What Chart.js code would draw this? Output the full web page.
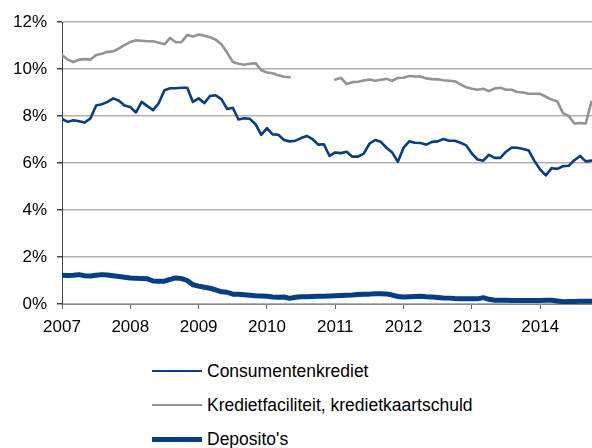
<!DOCTYPE html>
<html>
<head>
<meta charset="utf-8">
<script src="https://cdn.jsdelivr.net/npm/chart.js@4/dist/chart.umd.min.js"></script>
<style>
  html, body { margin: 0; padding: 0; background: #fff; }
  #wrap { position: relative; width: 592px; height: 448px; overflow: hidden; }
  #chart { position: absolute; left: 0; top: 0; }
  .legend { position: absolute; left: 152px; font: 17.5px "Liberation Sans", Arial, sans-serif; color: #000; }
  .legend .row { position: absolute; left: 0; white-space: nowrap; height: 20px; line-height: 20px; }
  .legend .swatch { position: absolute; left: 0; width: 50px; top: 50%; }
  .legend .txt { position: absolute; left: 55px; top: 0; }
</style>
</head>
<body>
<div id="wrap">
  <canvas id="chart" width="592" height="340"></canvas>
  <div class="legend" id="legend"></div>
</div>
<script>
// year labels on the x axis (one tick every 12 months, starting Jan 2007)
const years = ['2007', '2008', '2009', '2010', '2011', '2012', '2013', '2014'];
const yTicks = [0, 2, 4, 6, 8, 10, 12];

// monthly rates in %, Jan 2007 .. Oct 2014
const consumentenkrediet = [
    7.88, 7.75, 7.82, 7.78, 7.72, 7.90, 8.45, 8.50, 8.60, 8.75, 8.65, 8.45,
    8.38, 8.15, 8.60, 8.42, 8.25, 8.55, 9.10, 9.18, 9.18, 9.20, 9.20, 8.60,
    8.75, 8.55, 8.85, 8.88, 8.72, 8.30, 8.35, 7.85, 7.90, 7.88, 7.65, 7.20,
    7.48, 7.22, 7.20, 6.98, 6.92, 6.95, 7.06, 7.15, 7.02, 6.78, 6.80, 6.30,
    6.45, 6.42, 6.48, 6.27, 6.27, 6.40, 6.82, 6.98, 6.90, 6.65, 6.45, 6.05,
    6.65, 6.92, 6.86, 6.85, 6.78, 6.90, 6.92, 7.02, 6.95, 6.95, 6.86, 6.75,
    6.40, 6.15, 6.10, 6.35, 6.22, 6.22, 6.48, 6.66, 6.65, 6.60, 6.53, 6.08,
    5.72, 5.47, 5.78, 5.75, 5.86, 5.88, 6.12, 6.30, 6.07, 6.10
];

const kredietfaciliteit = [
    10.60, 10.40, 10.30, 10.40, 10.42, 10.40, 10.60, 10.65, 10.73, 10.75, 10.88, 11.02,
    11.15, 11.22, 11.20, 11.18, 11.18, 11.12, 11.05, 11.32, 11.14, 11.15, 11.45, 11.38,
    11.47, 11.42, 11.35, 11.25, 11.05, 10.70, 10.30, 10.22, 10.18, 10.22, 10.25, 9.95,
    9.85, 9.82, 9.73, 9.67, 9.65, null, null, null, null, null, null, null,
    9.55, 9.62, 9.36, 9.44, 9.46, 9.51, 9.55, 9.50, 9.54, 9.58, 9.50, 9.62,
    9.63, 9.70, 9.68, 9.68, 9.60, 9.57, 9.56, 9.52, 9.50, 9.48, 9.35, 9.22,
    9.16, 9.12, 9.16, 9.06, 9.17, 9.20, 9.12, 9.12, 9.02, 9.00, 8.95, 8.95,
    8.94, 8.82, 8.70, 8.62, 8.12, 8.00, 7.68, 7.70, 7.68, 8.60
];

const deposito = [
    1.22, 1.21, 1.22, 1.25, 1.20, 1.19, 1.22, 1.25, 1.23, 1.20, 1.17, 1.14,
    1.11, 1.10, 1.08, 1.07, 0.98, 0.97, 0.97, 1.05, 1.11, 1.08, 1.00, 0.82,
    0.76, 0.71, 0.67, 0.60, 0.52, 0.50, 0.42, 0.41, 0.39, 0.37, 0.35, 0.34,
    0.33, 0.30, 0.29, 0.30, 0.24, 0.29, 0.31, 0.31, 0.32, 0.33, 0.33, 0.34,
    0.35, 0.36, 0.37, 0.38, 0.40, 0.41, 0.42, 0.44, 0.44, 0.43, 0.38, 0.32,
    0.30, 0.31, 0.32, 0.33, 0.31, 0.30, 0.28, 0.26, 0.25, 0.23, 0.22, 0.22,
    0.22, 0.22, 0.27, 0.20, 0.16, 0.16, 0.16, 0.15, 0.15, 0.15, 0.15, 0.15,
    0.15, 0.16, 0.16, 0.13, 0.10, 0.11, 0.11, 0.12, 0.12, 0.12
];

const seriesNames = ['Consumentenkrediet', 'Kredietfaciliteit, kredietkaartschuld', "Deposito's"];

const BLUE = '#063d84';
const GREY = '#939393';
const FONT = "'Liberation Sans', Arial, sans-serif";

const toPoints = arr => arr.map((v, i) => ({ x: i, y: v }));

const datasets = [
    { label: seriesNames[0], data: toPoints(consumentenkrediet), borderColor: BLUE, borderWidth: 2.6 },
    { label: seriesNames[1], data: toPoints(kredietfaciliteit), borderColor: GREY, borderWidth: 2.6 },
    { label: seriesNames[2], data: toPoints(deposito), borderColor: BLUE, borderWidth: 5 }
].map(d => Object.assign(d, {
    pointRadius: 0,
    tension: 0,
    fill: false,
    spanGaps: false,
    borderJoinStyle: 'round',
    borderCapStyle: 'round'
}));

Chart.defaults.font.family = FONT;
Chart.defaults.font.size = 17;
Chart.defaults.color = '#000';

new Chart(document.getElementById('chart').getContext('2d'), {
    type: 'line',
    data: { datasets: datasets },
    options: {
        responsive: false,
        animation: false,
        layout: { padding: { top: 22, right: 0, left: 0, bottom: 0 } },
        plugins: { legend: { display: false }, tooltip: { enabled: false } },
        scales: {
            x: {
                type: 'linear',
                min: 0,
                max: 93.1,
                afterBuildTicks: scale => {
                    scale.ticks = years.map((y, i) => ({ value: i * 12 }));
                },
                afterFit: scale => { scale.height = 36; },
                ticks: {
                    padding: 8,
                    maxRotation: 0,
                    autoSkip: false,
                    callback: (value) => years[Math.round(value / 12)]
                },
                grid: {
                    drawOnChartArea: false,
                    drawTicks: true,
                    tickLength: 5,
                    tickColor: '#666',
                    color: '#666'
                },
                border: { color: '#888', width: 1 }
            },
            y: {
                min: 0,
                max: 12,
                afterBuildTicks: scale => {
                    scale.ticks = yTicks.map(v => ({ value: v }));
                },
                afterFit: scale => { scale.width = 62; },
                ticks: {
                    padding: 10,
                    callback: v => v + '%'
                },
                grid: {
                    color: '#b0b0b0',
                    lineWidth: 1.5,
                    tickLength: 5,
                    tickColor: '#444'
                },
                border: { color: '#444', width: 1 }
            }
        }
    }
});

// legend under the chart
const legendRows = [
    { name: seriesNames[0], color: BLUE, width: 2.5, y: 361 },
    { name: seriesNames[1], color: GREY, width: 2.5, y: 395 },
    { name: seriesNames[2], color: BLUE, width: 5, y: 429 }
];
const legend = document.getElementById('legend');
legendRows.forEach(r => {
    const row = document.createElement('div');
    row.className = 'row';
    row.style.top = r.y + 'px';
    const sw = document.createElement('div');
    sw.className = 'swatch';
    sw.style.height = r.width + 'px';
    sw.style.marginTop = (-r.width / 2) + 'px';
    sw.style.background = r.color;
    const t = document.createElement('span');
    t.className = 'txt';
    t.textContent = r.name;
    row.appendChild(sw);
    row.appendChild(t);
    legend.appendChild(row);
});
</script>
</body>
</html>
